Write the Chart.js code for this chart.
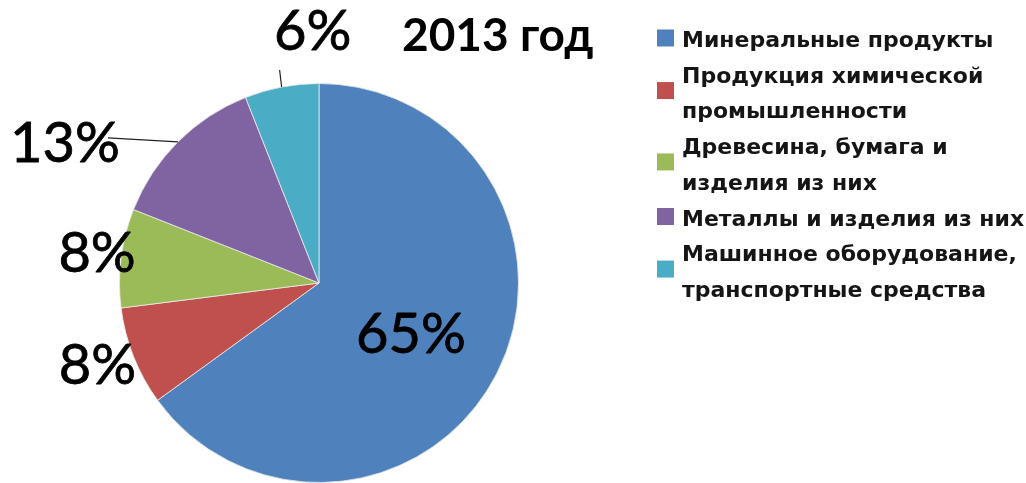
<!DOCTYPE html>
<html>
<head>
<meta charset="utf-8">
<script src="https://cdn.jsdelivr.net/npm/chart.js@4"></script>
<style>
  body { margin: 0; background: #fff; }
  canvas { display: block; }
</style>
</head>
<body>
<canvas id="grafico" width="1026" height="483"></canvas>
<script>
const titolo = "2013 год";
const categorie = [
  ["Минеральные продукты"],
  ["Продукция химической", "промышленности"],
  ["Древесина, бумага и", "изделия из них"],
  ["Металлы и изделия из них"],
  ["Машинное оборудование,", "транспортные средства"]
];
const valori = [65, 8, 8, 13, 6];
const colori = ["#4f81bd", "#c0504d", "#9bbb59", "#8064a2", "#4bacc6"];

// where each percent label goes, relative to the slice edge point (null = inside)
const spostamenti = [null, [-36, 28], [-24, 14], [-113, 20], [31, -37]];
// leader lines end points, relative to the slice edge point
const linee = [null, null, null, [-70, -4], [-2, -17]];

const etichette = {
  id: "etichette",
  afterDatasetsDraw(chart) {
    const ctx = chart.ctx;
    const archi = chart.getDatasetMeta(0).data;
    ctx.save();
    ctx.fillStyle = "#000";
    ctx.strokeStyle = "#000";
    ctx.textAlign = "center";
    ctx.textBaseline = "alphabetic";
    ctx.font = "56px Lato";
    ctx.lineWidth = 0.8;
    ctx.lineJoin = "round";
    archi.forEach((arc, i) => {
      const testo = valori[i] + "%";
      const p = arc.getProps(["x", "y", "startAngle", "endAngle", "outerRadius"], true);
      if (!spostamenti[i]) {
        const c = arc.tooltipPosition(true);
        ctx.fillText(testo, c.x + 3, c.y + 25);
        ctx.strokeText(testo, c.x + 3, c.y + 25);
        return;
      }
      const mid = (p.startAngle + p.endAngle) / 2;
      const ex = p.x + Math.cos(mid) * p.outerRadius;
      const ey = p.y + Math.sin(mid) * p.outerRadius;
      if (linee[i]) {
        ctx.save();
        ctx.strokeStyle = "#222";
        ctx.lineWidth = 1.2;
        ctx.beginPath();
        ctx.moveTo(ex, ey);
        ctx.lineTo(ex + linee[i][0], ey + linee[i][1]);
        ctx.stroke();
        ctx.restore();
      }
      ctx.fillText(testo, ex + spostamenti[i][0], ey + spostamenti[i][1]);
      ctx.strokeText(testo, ex + spostamenti[i][0], ey + spostamenti[i][1]);
    });

    // title
    ctx.font = "bold 46px Lato";
    ctx.textAlign = "left";
    ctx.fillText(titolo, 402, 51);

    // legend
    ctx.font = "bold 22px 'DejaVu Sans'";
    let y = 47;
    categorie.forEach((righe, i) => {
      const centro = y - 8 + (righe.length - 1) * 35.7 / 2 - (righe.length > 1 ? 2 : 1);
      ctx.fillStyle = colori[i];
      ctx.fillRect(657, centro - 8.5, 17, 17);
      ctx.fillStyle = "#151515";
      righe.forEach(r => {
        ctx.fillText(r, 682, y);
        y += 35.7;
      });
    });
    ctx.restore();
  }
};

new Chart(document.getElementById("grafico"), {
  type: "pie",
  data: {
    labels: categorie,
    datasets: [{
      data: valori,
      backgroundColor: colori,
      borderColor: "rgba(235,235,235,0.8)",
      borderWidth: 1,
      hoverOffset: 0
    }]
  },
  options: {
    responsive: false,
    animation: false,
    events: [],
    layout: { padding: { left: 119, right: 507, top: 83, bottom: 0 } },
    plugins: {
      legend: { display: false },
      tooltip: { enabled: false }
    }
  },
  plugins: [etichette]
});
</script>
</body>
</html>
